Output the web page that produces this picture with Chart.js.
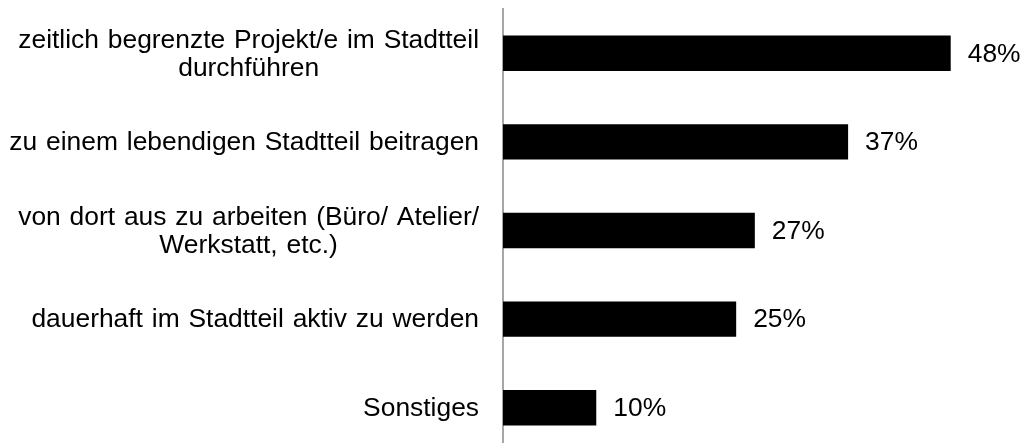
<!DOCTYPE html>
<html>
<head>
<meta charset="utf-8">
<script src="https://cdn.jsdelivr.net/npm/chart.js@4/dist/chart.umd.min.js"></script>
<style>
html,body{margin:0;padding:0;background:#fff;overflow:hidden;}
#wrap{position:relative;width:1025px;height:452px;}
</style>
</head>
<body>
<div id="wrap"><canvas id="c"></canvas></div>
<script>
const categories = [
  ["zeitlich begrenzte Projekt/e im Stadtteil", "durchführen"],
  ["zu einem lebendigen Stadtteil beitragen"],
  ["von dort aus zu arbeiten (Büro/ Atelier/", "Werkstatt, etc.)"],
  ["dauerhaft im Stadtteil aktiv zu werden"],
  ["Sonstiges"]
];
const values = [48, 37, 27, 25, 10];
const valueLabels = ["48%", "37%", "27%", "25%", "10%"];

const FONT = "26.4px 'Liberation Sans', Arial, sans-serif";

const labelPlugin = {
  id: 'customLabels',
  afterDatasetsDraw(chart) {
    const ctx = chart.ctx;
    const y = chart.scales.y;
    const meta = chart.getDatasetMeta(0);
    ctx.save();
    ctx.font = FONT;
    ctx.fillStyle = '#000';
    ctx.textBaseline = 'middle';
    const right = 479;
    const lh = 28;
    try { ctx.wordSpacing = '1.5px'; } catch (e) {}
    categories.forEach((lines, i) => {
      const cy = y.getPixelForValue(i);
      const w = Math.max(...lines.map(l => ctx.measureText(l).width));
      const cx = right - w / 2;
      ctx.textAlign = 'center';
      const y0 = cy - (lines.length - 1) * lh / 2;
      lines.forEach((l, k) => ctx.fillText(l, cx, y0 + k * lh + 1));
    });
    try { ctx.wordSpacing = '0px'; } catch (e) {}
    ctx.textAlign = 'left';
    meta.data.forEach((bar, i) => {
      ctx.fillText(valueLabels[i], bar.x + 17, bar.y + 1);
    });
    ctx.restore();
  }
};

new Chart(document.getElementById('c'), {
  type: 'bar',
  data: {
    labels: categories,
    datasets: [{
      data: values,
      backgroundColor: '#000000',
      borderWidth: 0,
      categoryPercentage: 1,
      barPercentage: 0.4
    }]
  },
  options: {
    indexAxis: 'y',
    responsive: true,
    maintainAspectRatio: false,
    animation: false,
    layout: { padding: { top: 9, right: 9, left: 0, bottom: 0 } },
    plugins: { legend: { display: false }, tooltip: { enabled: false } },
    scales: {
      x: { display: false, min: 0, max: 55 },
      y: {
        afterFit(scale) { scale.width = 503; },
        grid: { display: false },
        border: { display: true, color: '#a6a6a6', width: 2 },
        ticks: { display: false }
      }
    }
  },
  plugins: [labelPlugin]
});
</script>
</body>
</html>
